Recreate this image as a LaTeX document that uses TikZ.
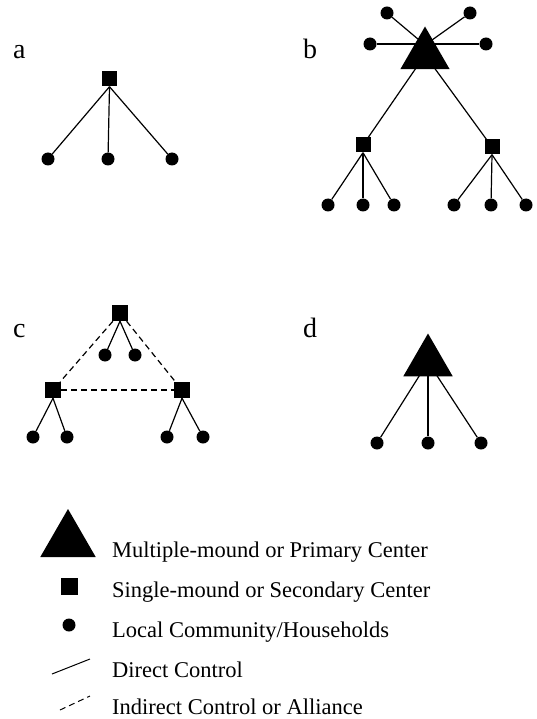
\documentclass[tikz,border=0pt]{standalone}
\usepackage{fontspec}
\setmainfont{Liberation Serif}
\usetikzlibrary{shapes.geometric,backgrounds}
\begin{document}
\begin{tikzpicture}[x=1pt,y=-1pt,
  sq/.style={rectangle,fill=black,inner sep=0,minimum size=15},
  dot/.style={circle,fill=black,inner sep=0,minimum size=13},
  tri/.style={regular polygon,regular polygon sides=3,fill=black,inner sep=0,minimum size=57},
  link/.style={line width=1.2pt},
  ally/.style={line width=1.2pt,dash pattern=on 6pt off 4pt},
  lbl/.style={anchor=base west,inner sep=0,font=\fontsize{28}{32}\selectfont},
  legtext/.style={anchor=base west,inner sep=0,font=\fontsize{22.5}{26}\selectfont}]
\useasboundingbox (0,0) rectangle (536,719);
\begin{scope}[on background layer]
\fill[white] (0,0) rectangle (536,719);
\end{scope}

% ---- panel a
\node[lbl] (la) at (13,59) {a};
\node[sq] (as) at (109.5,79) {};
\node[dot] (a1) at (48,159) {};
\node[dot] (a2) at (108,159) {};
\node[dot] (a3) at (172,159) {};
\draw[link] (as.south) -- (a1);
\draw[link] (as.south) -- (a2);
\draw[link] (as.south) -- (a3);

% ---- panel b
\node[lbl] (lb) at (303,59) {b};
\node[tri] (bt) at (425,55) {};
\coordinate (bh) at (425,45);
\node[dot] (bu1) at (387,13) {};
\node[dot] (bu2) at (470,13) {};
\node[dot] (bm1) at (370,44) {};
\node[dot] (bm2) at (486,44) {};
\node[sq] (bs1) at (363,145) {};
\node[sq] (bs2) at (492,147) {};
\node[dot] (b1) at (328,205) {};
\node[dot] (b2) at (363,205) {};
\node[dot] (b3) at (394,205) {};
\node[dot] (b4) at (454,205) {};
\node[dot] (b5) at (491,205) {};
\node[dot] (b6) at (526,205) {};
\begin{scope}[on background layer]
\draw[link] (bu1) -- (bh);
\draw[link] (bu2) -- (bh);
\draw[link] (bm1) -- (bm2);
\draw[link] (bs1) -- (bt.center);
\draw[link] (bs2) -- (bt.center);
\end{scope}
\draw[link] (bs1.south) -- (b1);
\draw[link] (bs1.south) -- (b2);
\draw[link] (bs1.south) -- (b3);
\draw[link] (bs2.south) -- (b4);
\draw[link] (bs2.south) -- (b5);
\draw[link] (bs2.south) -- (b6);

% ---- panel c
\node[lbl] (lc) at (13,337) {c};
\node[sq,minimum size=16] (ct) at (120,313) {};
\node[sq,minimum size=16] (cl) at (53,390) {};
\node[sq,minimum size=16] (cr) at (182,390) {};
\node[dot] (ca1) at (105,355) {};
\node[dot] (ca2) at (135,355) {};
\node[dot] (cl1) at (33,437) {};
\node[dot] (cl2) at (67,437) {};
\node[dot] (cr1) at (167,437) {};
\node[dot] (cr2) at (203,437) {};
\draw[link] (ct.south) -- (ca1);
\draw[link] (ct.south) -- (ca2);
\draw[link] (cl.south) -- (cl1);
\draw[link] (cl.south) -- (cl2);
\draw[link] (cr.south) -- (cr1);
\draw[link] (cr.south) -- (cr2);
\draw[ally] (ct) -- (cl);
\draw[ally] (ct) -- (cr);
\draw[ally] (cl) -- (cr);

% ---- panel d
\node[lbl] (ld) at (303,337) {d};
\node[tri] (dt) at (428,362) {};
\node[dot] (d1) at (377,443) {};
\node[dot] (d2) at (428,443) {};
\node[dot] (d3) at (481,443) {};
\begin{scope}[on background layer]
\draw[link] (dt.center) -- (d1);
\draw[link] (dt.center) -- (d2);
\draw[link] (dt.center) -- (d3);
\end{scope}

% ---- legend
\node[tri,minimum size=64] (kt) at (68,541) {};
\node[sq,minimum size=17] (ks) at (69.5,586.5) {};
\node[dot] (kc) at (69,625) {};
\coordinate (kl1) at (52,674);
\coordinate (kl2) at (90,659);
\coordinate (kd1) at (60,710);
\coordinate (kd2) at (90,696);
\draw[line width=1pt] (kl1) -- (kl2);
\draw[line width=1pt,dash pattern=on 6pt off 4pt] (kd1) -- (kd2);
\node[legtext] (tm) at (112,557) {Multiple-mound or Primary Center};
\node[legtext] (ts) at (112,597) {Single-mound or Secondary Center};
\node[legtext] (tc) at (112,637) {Local Community/Households};
\node[legtext] (tdc) at (112,677) {Direct Control};
\node[legtext] (tic) at (112,714) {Indirect Control or Alliance};
\end{tikzpicture}
\end{document}
